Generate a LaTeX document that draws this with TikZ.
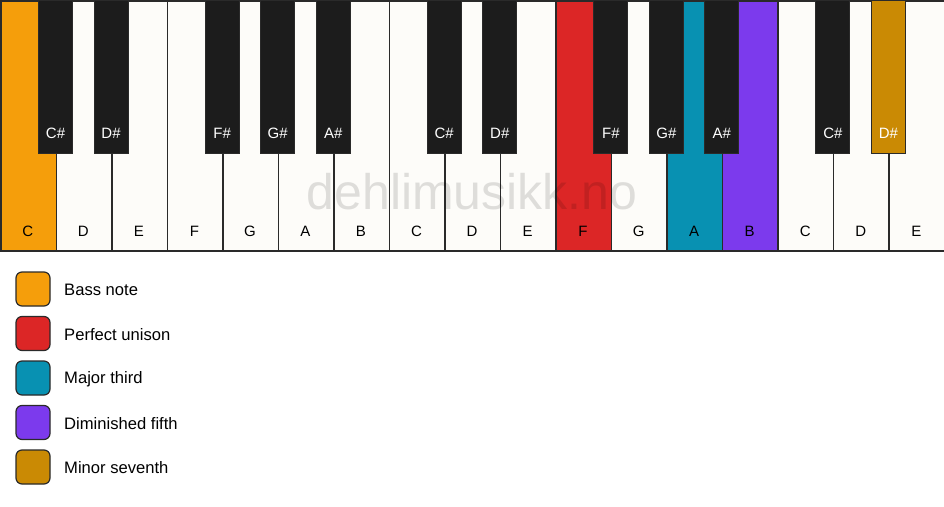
\documentclass[tikz,border=0pt]{standalone}
\usepackage{fontspec}
\setmainfont{Liberation Sans}
\definecolor{keywhite}{HTML}{FDFCF9}
\definecolor{keyblack}{HTML}{1C1C1C}
\definecolor{keyline}{HTML}{2A2A2A}
\definecolor{cbass}{HTML}{F59E0B}
\definecolor{cunison}{HTML}{DC2626}
\definecolor{cthird}{HTML}{0891B2}
\definecolor{cfifth}{HTML}{7C3AED}
\definecolor{cseventh}{HTML}{CA8A04}
\begin{document}
\begin{tikzpicture}[x=1pt,y=-1pt,
  whitekey/.style={draw=keyline, line width=1.5pt, fill=keywhite, minimum width=55.53pt, minimum height=250pt, inner sep=0pt, anchor=north west, rectangle},
  blackkey/.style={draw=keyline, line width=1pt, fill=keyblack, minimum width=34pt, minimum height=153pt, inner sep=0pt, anchor=north, rectangle},
  wlabel/.style={font=\fontsize{15}{15}\selectfont, text=black, anchor=base},
  blabel/.style={font=\fontsize{15}{15}\selectfont, text=white, anchor=base},
  legbox/.style={draw=keyline, line width=1.2pt, rounded corners=6pt, minimum width=34pt, minimum height=34pt, inner sep=0pt, rectangle},
  legtext/.style={font=\fontsize{16.6}{16.6}\selectfont, anchor=west, inner sep=0pt}
]
\useasboundingbox (0,0) rectangle (944,506);
\fill[white] (0,0) rectangle (944,506);
% white keys
\foreach \n/\c [count=\i from 0] in {C/cbass,D/keywhite,E/keywhite,F/keywhite,G/keywhite,A/keywhite,B/keywhite,C/keywhite,D/keywhite,E/keywhite,F/cunison,G/keywhite,A/cthird,B/cfifth,C/keywhite,D/keywhite,E/keywhite}{
  \node[whitekey, fill=\c] (w\i) at ({\i*55.53},0) {};
  \node[wlabel] (wl\i) at ({\i*55.53+27.76},236) {\n};
}
% watermark
\node[font=\fontsize{50}{50}\selectfont, text=black, opacity=0.12, anchor=base] (wm) at (472,209) {dehlimusikk.no};
% black keys
\foreach \b/\n/\c in {1/C\#/keyblack,2/D\#/keyblack,4/F\#/keyblack,5/G\#/keyblack,6/A\#/keyblack,8/C\#/keyblack,9/D\#/keyblack,11/F\#/keyblack,12/G\#/keyblack,13/A\#/keyblack,15/C\#/keyblack,16/D\#/cseventh}{
  \node[blackkey, fill=\c] (b\b) at ({\b*55.53},0) {};
  \node[blabel] (bl\b) at ({\b*55.53},138.5) {\n};
}
% legend
\foreach \c/\t [count=\i from 0] in {cbass/Bass note,cunison/Perfect unison,cthird/Major third,cfifth/Diminished fifth,cseventh/Minor seventh}{
  \node[legbox, fill=\c] (lb\i) at (33,{289+\i*44.5}) {};
  \node[legtext] (lt\i) at (64,{290+\i*44.5}) {\t};
}
\end{tikzpicture}
\end{document}
